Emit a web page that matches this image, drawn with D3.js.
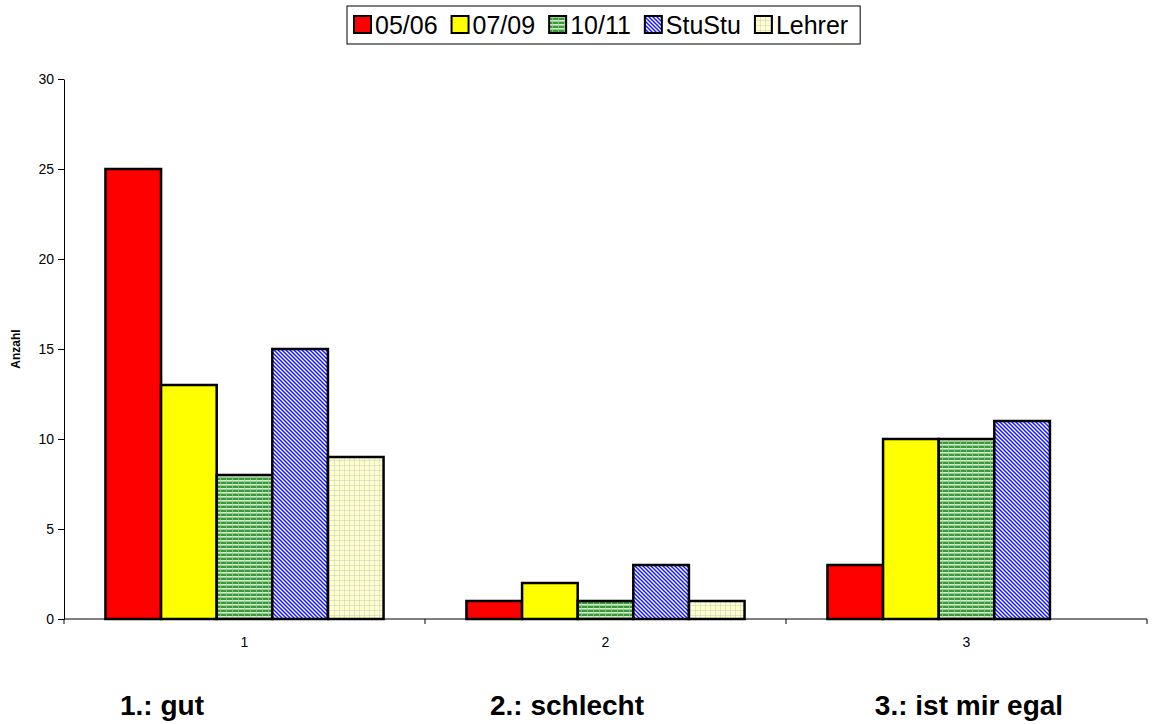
<!DOCTYPE html>
<html>
<head>
<meta charset="utf-8">
<script src="https://cdn.jsdelivr.net/npm/d3@7"></script>
<style>
  html, body { margin: 0; padding: 0; background: #fff; }
  svg { display: block; font-family: "Liberation Sans", Arial, sans-serif; }
</style>
</head>
<body>
<svg id="chart" width="1156" height="724"></svg>
<script>
// Answer categories and the survey groups
const categories = ["1", "2", "3"];
const seriesNames = ["05/06", "07/09", "10/11", "StuStu", "Lehrer"];
const values0506 = [25, 1, 3];
const values0709 = [13, 2, 10];
const values1011 = [8, 1, 10];
const valuesStuStu = [15, 3, 11];
const valuesLehrer = [9, 1, 0];
const yTicks = [0, 5, 10, 15, 20, 25, 30];
const answerLabels = ["1.: gut", "2.: schlecht", "3.: ist mir egal"];
const yTitle = "Anzahl";

const seriesValues = [values0506, values0709, values1011, valuesStuStu, valuesLehrer];
const fills = ["#ff0000", "#ffff00", "url(#pGreen)", "url(#pBlue)", "url(#pCream)"];

const svg = d3.select("#chart");
const defs = svg.append("defs");

// Green horizontal-stripe fill
const pg = defs.append("pattern").attr("id", "pGreen").attr("patternUnits", "userSpaceOnUse")
  .attr("width", 6).attr("height", 4);
pg.append("rect").attr("width", 6).attr("height", 4).attr("fill", "#3a9a3a");
pg.append("rect").attr("y", 0).attr("width", 6).attr("height", 1.6).attr("fill", "#d6eecf");
pg.append("rect").attr("x", 0).attr("width", 1).attr("height", 4).attr("fill", "#9fd09a").attr("opacity", 0.7);

// Blue diagonal-hatch fill
const pb = defs.append("pattern").attr("id", "pBlue").attr("patternUnits", "userSpaceOnUse")
  .attr("width", 4).attr("height", 4);
pb.append("rect").attr("width", 4).attr("height", 4).attr("fill", "#ffffff");
pb.append("path").attr("d", "M0,0 L4,4 M-1,3 L1,5 M3,-1 L5,1")
  .attr("stroke", "#1515ff").attr("stroke-width", 1.5);

// Cream grid fill
const pc = defs.append("pattern").attr("id", "pCream").attr("patternUnits", "userSpaceOnUse")
  .attr("width", 5).attr("height", 5);
pc.append("rect").attr("width", 5).attr("height", 5).attr("fill", "#ffffcc");
pc.append("path").attr("d", "M0,0 L5,0 M0,0 L0,5").attr("stroke", "#c9c9c0").attr("stroke-width", 1);

// Scales
const x0 = d3.scaleBand().domain(categories).range([64, 1147]).padding(0);
const x1 = d3.scaleBand().domain(seriesNames).range([0, x0.bandwidth()])
  .paddingInner(0).paddingOuter(0.745);
const y = d3.scaleLinear().domain([0, 30]).range([619, 79]);

// Y axis
const yAxis = svg.append("g").attr("transform", "translate(64,0)")
  .call(d3.axisLeft(y).tickValues(yTicks).tickSize(6).tickSizeOuter(0).tickPadding(4));
yAxis.selectAll("text").attr("font-size", 14).attr("fill", "#000")
  .attr("font-family", "Liberation Sans, Arial, sans-serif");
yAxis.selectAll("line, path").attr("stroke", "#000").attr("stroke-width", 1);

// Y axis title
svg.append("text").attr("transform", "translate(20,349) rotate(-90)")
  .attr("text-anchor", "middle").attr("font-size", 12).attr("font-weight", "bold")
  .text(yTitle);

// Bars
const groups = svg.append("g").selectAll("g").data(categories).join("g")
  .attr("transform", d => `translate(${x0(d)},0)`);
groups.selectAll("rect")
  .data((c, ci) => seriesNames.map((s, si) => ({ s, si, v: seriesValues[si][ci] })).filter(d => d.v > 0))
  .join("rect")
  .attr("x", d => x1(d.s))
  .attr("y", d => y(d.v))
  .attr("width", x1.bandwidth())
  .attr("height", d => y(0) - y(d.v))
  .attr("fill", d => fills[d.si])
  .attr("stroke", "#000")
  .attr("stroke-width", 2.5);

// X axis: line with tick marks at category boundaries
const xAxisG = svg.append("g").attr("transform", "translate(0,619)");
xAxisG.append("line").attr("x1", 64).attr("x2", 1147).attr("stroke", "#000");
const bounds = categories.map(c => x0(c)).concat([x0(categories[categories.length - 1]) + x0.bandwidth()]);
xAxisG.selectAll("line.tk").data(bounds).join("line").attr("class", "tk")
  .attr("x1", d => d).attr("x2", d => d).attr("y1", 0).attr("y2", 5).attr("stroke", "#000");
xAxisG.selectAll("text").data(categories).join("text")
  .attr("x", d => x0(d) + x0.bandwidth() / 2).attr("y", 28)
  .attr("text-anchor", "middle").attr("font-size", 14).text(d => d);

// Answer captions below the axis
const captionX = [162, 567, 969];
svg.selectAll("text.cap").data(answerLabels).join("text").attr("class", "cap")
  .attr("x", (d, i) => captionX[i]).attr("y", 715)
  .attr("text-anchor", "middle").attr("font-size", 28).attr("font-weight", "bold")
  .text(d => d);

// Legend
const legend = svg.append("g");
const legBox = legend.append("rect").attr("y", 6).attr("height", 38)
  .attr("fill", "#fff").attr("stroke", "#000").attr("stroke-width", 1);
let lx = 354;
seriesNames.forEach((name, i) => {
  legend.append("rect").attr("x", lx).attr("y", 16).attr("width", 17).attr("height", 17)
    .attr("fill", fills[i]).attr("stroke", "#000").attr("stroke-width", 2);
  const t = legend.append("text").attr("x", lx + 21).attr("y", 34)
    .attr("font-size", 25).text(name);
  lx += 21 + t.node().getComputedTextLength() + 14;
});
legBox.attr("x", 347).attr("width", lx - 14 + 12 - 347);
</script>
</body>
</html>
